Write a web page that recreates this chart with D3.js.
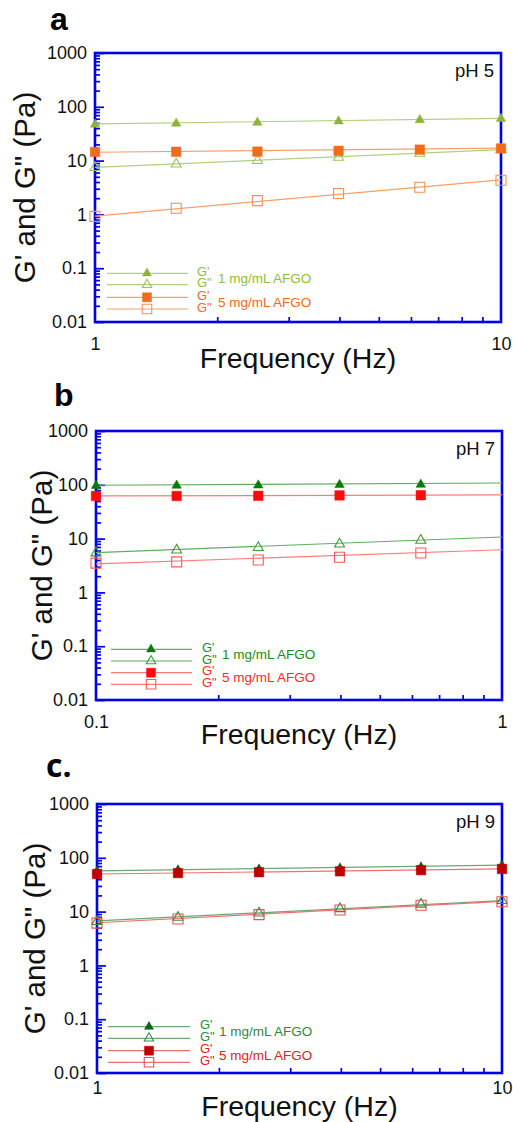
<!DOCTYPE html>
<html><head><meta charset="utf-8">
<script src="https://cdn.jsdelivr.net/npm/d3@7"></script>
<style>
html,body{margin:0;padding:0;background:#fff;}
svg{display:block;font-family:"Liberation Sans",Arial,sans-serif;}
</style></head>
<body>
<svg id="chart" width="513" height="1122"></svg>
<script>
// ---------------- DATA ----------------
const yTickValues = [0.01, 0.1, 1, 10, 100, 1000];
const yTickLabels = ["0.01", "0.1", "1", "10", "100", "1000"];
const xTickValuesA = [1, 10];
const xTickLabelsA = ["1", "10"];
const xTickValuesB = [0.1, 1];
const xTickLabelsB = ["0.1", "1"];

const seriesNames = ["G'", "G\"", "G'", "G\""];
const legendTexts = ["1 mg/mL AFGO", "5 mg/mL AFGO"];
const panelLetters = ["a", "b", "c."];
const phLabels = ["pH 5", "pH 7", "pH 9"];

// Panel a (pH 5)
const freqA = [1, 1.585, 2.512, 3.981, 6.31, 10];
const gp1A  = [47, 49, 51, 54, 57, 60];
const gpp1A = [7.4, 8.6, 10, 11.5, 13.6, 16];
const gp5A  = [14.5, 14.6, 14.7, 15.2, 16, 16.8];
const gpp5A = [0.92, 1.3, 1.8, 2.45, 3.2, 4.3];
const fitFreqA = [1, 10];
const fitGp1A  = [48, 61];
const fitGpp1A = [7.5, 16];
const fitGp5A  = [14.3, 17];
const fitGpp5A = [0.93, 4.4];

// Panel b (pH 7)
const freqB = [0.1, 0.158, 0.251, 0.398, 0.631];
const gp1B  = [96, 97, 98, 100, 101];
const gpp1B = [5.4, 6.1, 6.8, 7.9, 9.3];
const gp5B  = [62, 62, 62.5, 63.5, 64];
const gpp5B = [3.5, 3.7, 4.0, 4.5, 5.4];
const fitFreqB = [0.1, 1];
const fitGp1B  = [98, 108];
const fitGpp1B = [5.5, 10.7];
const fitGp5B  = [62, 65];
const fitGpp5B = [3.4, 6.2];

// Panel c (pH 9)
const freqC = [1, 1.585, 2.512, 3.981, 6.31, 10];
const gp1C  = [56, 59, 61, 64, 67, 71];
const gpp1C = [6.5, 7.8, 9.4, 11.3, 13.7, 16];
const gp5C  = [50, 52, 54, 56, 59, 62];
const gpp5C = [6.1, 7.3, 8.8, 10.7, 13.1, 15.2];
const fitFreqC = [1, 10];
const fitGp1C  = [57, 73];
const fitGpp1C = [6.7, 16];
const fitGp5C  = [50, 62];
const fitGpp5C = [6.2, 15.5];

// ---------------- STYLE / LAYOUT ----------------
const AXIS = "#0000e6";
const panels = [
  { letter: panelLetters[0], ph: phLabels[0],
    box: {l: 95, r: 501, t: 53, b: 322},
    xDomain: [1, 10], xTicks: xTickValuesA, xLabels: xTickLabelsA,
    freq: freqA, vals: [gp1A, gpp1A, gp5A, gpp5A],
    fitX: fitFreqA, fits: [fitGp1A, fitGpp1A, fitGp5A, fitGpp5A],
    colors: { fill: ["#8cb43c", "#9cc45c", "#f26a1a", "#f58f58"],
              line: ["#b2cf7e", "#b2cf7e", "#f5a06c", "#f5a06c"],
              text: ["#8fbc3f", "#f26a1a"] },
    yTitleX: 35, xTitleY: 368, xLabY: 28, letterPos: [50, 30], letterFont: "Liberation Sans",
    legend: {x1: 107, x2: 188, mx: 147, ys: [273.3, 284.7, 297.3, 309], gx: 197, tx: 218} },
  { letter: panelLetters[1], ph: phLabels[1],
    box: {l: 96, r: 502, t: 431, b: 700},
    xDomain: [0.1, 1], xTicks: xTickValuesB, xLabels: xTickLabelsB,
    freq: freqB, vals: [gp1B, gpp1B, gp5B, gpp5B],
    fitX: fitFreqB, fits: [fitGp1B, fitGpp1B, fitGp5B, fitGpp5B],
    colors: { fill: ["#0b7a0b", "#3d9a3d", "#ff0a0a", "#ff5a5a"],
              line: ["#5fae5f", "#5fae5f", "#ff7a7a", "#ff7a7a"],
              text: ["#1a8c1a", "#ff2a2a"] },
    yTitleX: 51.5, xTitleY: 744, xLabY: 28, letterPos: [54, 406], letterFont: "Liberation Sans",
    legend: {x1: 111, x2: 192, mx: 151, ys: [649.3, 661, 672.7, 684.3], gx: 202, tx: 222} },
  { letter: panelLetters[2], ph: phLabels[2],
    box: {l: 97, r: 502, t: 804, b: 1073},
    xDomain: [1, 10], xTicks: xTickValuesA, xLabels: xTickLabelsA,
    freq: freqC, vals: [gp1C, gpp1C, gp5C, gpp5C],
    fitX: fitFreqC, fits: [fitGp1C, fitGpp1C, fitGp5C, fitGpp5C],
    colors: { fill: ["#0d6318", "#3b8a4a", "#c00000", "#e05555"],
              line: ["#6aa877", "#6aa877", "#f07070", "#f07070"],
              text: ["#2c8a3a", "#e52020"] },
    yTitleX: 45, xTitleY: 1116, xLabY: 21, letterPos: [46, 777], letterFont: "Open Sans",
    legend: {x1: 108, x2: 190, mx: 149, ys: [1026.7, 1038.3, 1050.7, 1062.3], gx: 200, tx: 219} }
];

// marker path generators
function triPath(s) {
  const h = s * Math.sqrt(3) / 2;
  return `M0,${-2*h/3}L${s/2},${h/3}L${-s/2},${h/3}Z`;
}
function sqPath(s) {
  return `M${-s/2},${-s/2}h${s}v${s}h${-s}Z`;
}
const markerShape = ["tri", "tri", "sq", "sq"];
const markerFilled = [true, false, true, false];

const svg = d3.select("#chart");
svg.append("rect").attr("width", 513).attr("height", 1122).attr("fill", "#fff");

panels.forEach(p => {
  const {l, r, t, b} = p.box;
  const x = d3.scaleLog().domain(p.xDomain).range([l, r]);
  const y = d3.scaleLog().domain([0.01, 1000]).range([b, t]);
  const g = svg.append("g");

  // y axis minor + major ticks (inward)
  const yAll = y.ticks();
  const yMinor = yAll.filter(v => !yTickValues.some(m => Math.abs(m - v) / m < 1e-6));
  const yMin = g.append("g").attr("transform", `translate(${l},0)`)
    .call(d3.axisLeft(y).tickValues(yMinor).tickSize(-5).tickFormat(""));
  const yMaj = g.append("g").attr("transform", `translate(${l},0)`)
    .call(d3.axisLeft(y).tickValues(yTickValues).tickSize(-9).tickPadding(8)
      .tickFormat((d, i) => yTickLabels[i]));

  // x axis minor ticks (inward) + labels
  const xAll = x.ticks();
  const xMinor = xAll.filter(v => !p.xTicks.some(m => Math.abs(m - v) / m < 1e-6));
  const xMin = g.append("g").attr("transform", `translate(0,${b})`)
    .call(d3.axisBottom(x).tickValues(xMinor).tickSize(-5).tickFormat(""));
  const xMaj = g.append("g").attr("transform", `translate(0,${b})`)
    .call(d3.axisBottom(x).tickValues(p.xTicks).tickSize(0).tickPadding(p.xLabY - 13)
      .tickFormat((d, i) => p.xLabels[i]));

  [yMin, yMaj, xMin, xMaj].forEach(a => {
    a.select(".domain").remove();
    a.selectAll(".tick line").attr("stroke", AXIS).attr("stroke-width", 1.7);
    a.selectAll(".tick text").attr("fill", "#111").style("font-size", "18px")
      .style("font-family", "'Liberation Sans', Arial, sans-serif");
  });

  // frame
  g.append("rect").attr("x", l).attr("y", t).attr("width", r - l).attr("height", b - t)
    .attr("fill", "none").attr("stroke", AXIS).attr("stroke-width", 2.6);

  // fit lines
  const line = d3.line().x(d => x(d[0])).y(d => y(d[1]));
  p.fits.forEach((f, i) => {
    g.append("path").datum(p.fitX.map((fx, j) => [fx, f[j]]))
      .attr("d", line).attr("fill", "none")
      .attr("stroke", p.colors.line[i]).attr("stroke-width", 1.2);
  });

  // markers
  p.vals.forEach((vals, i) => {
    const filled = markerFilled[i];
    const s = filled ? 9.5 : 10;
    const d = markerShape[i] === "tri" ? triPath(s) : sqPath(s);
    g.append("g").selectAll("path").data(vals).join("path")
      .attr("transform", (v, j) => `translate(${x(p.freq[j])},${y(v)})`)
      .attr("d", d)
      .attr("fill", filled ? p.colors.fill[i] : "none")
      .attr("stroke", p.colors.fill[i])
      .attr("stroke-width", filled ? 0.5 : 1.1);
  });

  // legend
  const L = p.legend;
  L.ys.forEach((ly, i) => {
    g.append("line").attr("x1", L.x1).attr("x2", L.x2).attr("y1", ly).attr("y2", ly)
      .attr("stroke", p.colors.line[i]).attr("stroke-width", 1.2);
    const filled = markerFilled[i];
    const s = filled ? 9 : 9.5;
    const d = markerShape[i] === "tri" ? triPath(s) : sqPath(s);
    g.append("path").attr("transform", `translate(${L.mx},${ly})`).attr("d", d)
      .attr("fill", filled ? p.colors.fill[i] : "none")
      .attr("stroke", p.colors.fill[i]).attr("stroke-width", filled ? 0.5 : 1.1);
    g.append("text").attr("x", L.gx).attr("y", ly + 2.5)
      .attr("fill", p.colors.text[Math.floor(i / 2)])
      .style("font-size", "13px").text(seriesNames[i]);
  });
  [0, 1].forEach(k => {
    const ym = (L.ys[2 * k] + L.ys[2 * k + 1]) / 2 + 3.5;
    g.append("text").attr("x", L.tx).attr("y", ym)
      .attr("fill", p.colors.text[k]).style("font-size", "13.5px").text(legendTexts[k]);
  });

  // pH label
  g.append("text").attr("x", r - 7).attr("y", t + 24).attr("text-anchor", "end")
    .attr("fill", "#111").style("font-size", "18.5px").text(p.ph);

  // axis titles
  g.append("text").attr("transform", `translate(${p.yTitleX},${(t + b) / 2}) rotate(-90)`)
    .attr("text-anchor", "middle").attr("fill", "#111").style("font-size", "29.5px")
    .text("G' and G\" (Pa)");
  g.append("text").attr("x", (l + r) / 2).attr("y", p.xTitleY).attr("text-anchor", "middle")
    .attr("fill", "#111").style("font-size", "28.5px").text("Frequency (Hz)");

  // panel letter
  g.append("text").attr("x", p.letterPos[0]).attr("y", p.letterPos[1])
    .attr("fill", "#000").style("font-size", "32px").style("font-weight", "bold")
    .style("font-family", `'${p.letterFont}', 'Liberation Sans', sans-serif`)
    .text(p.letter);
});
</script>
</body></html>
